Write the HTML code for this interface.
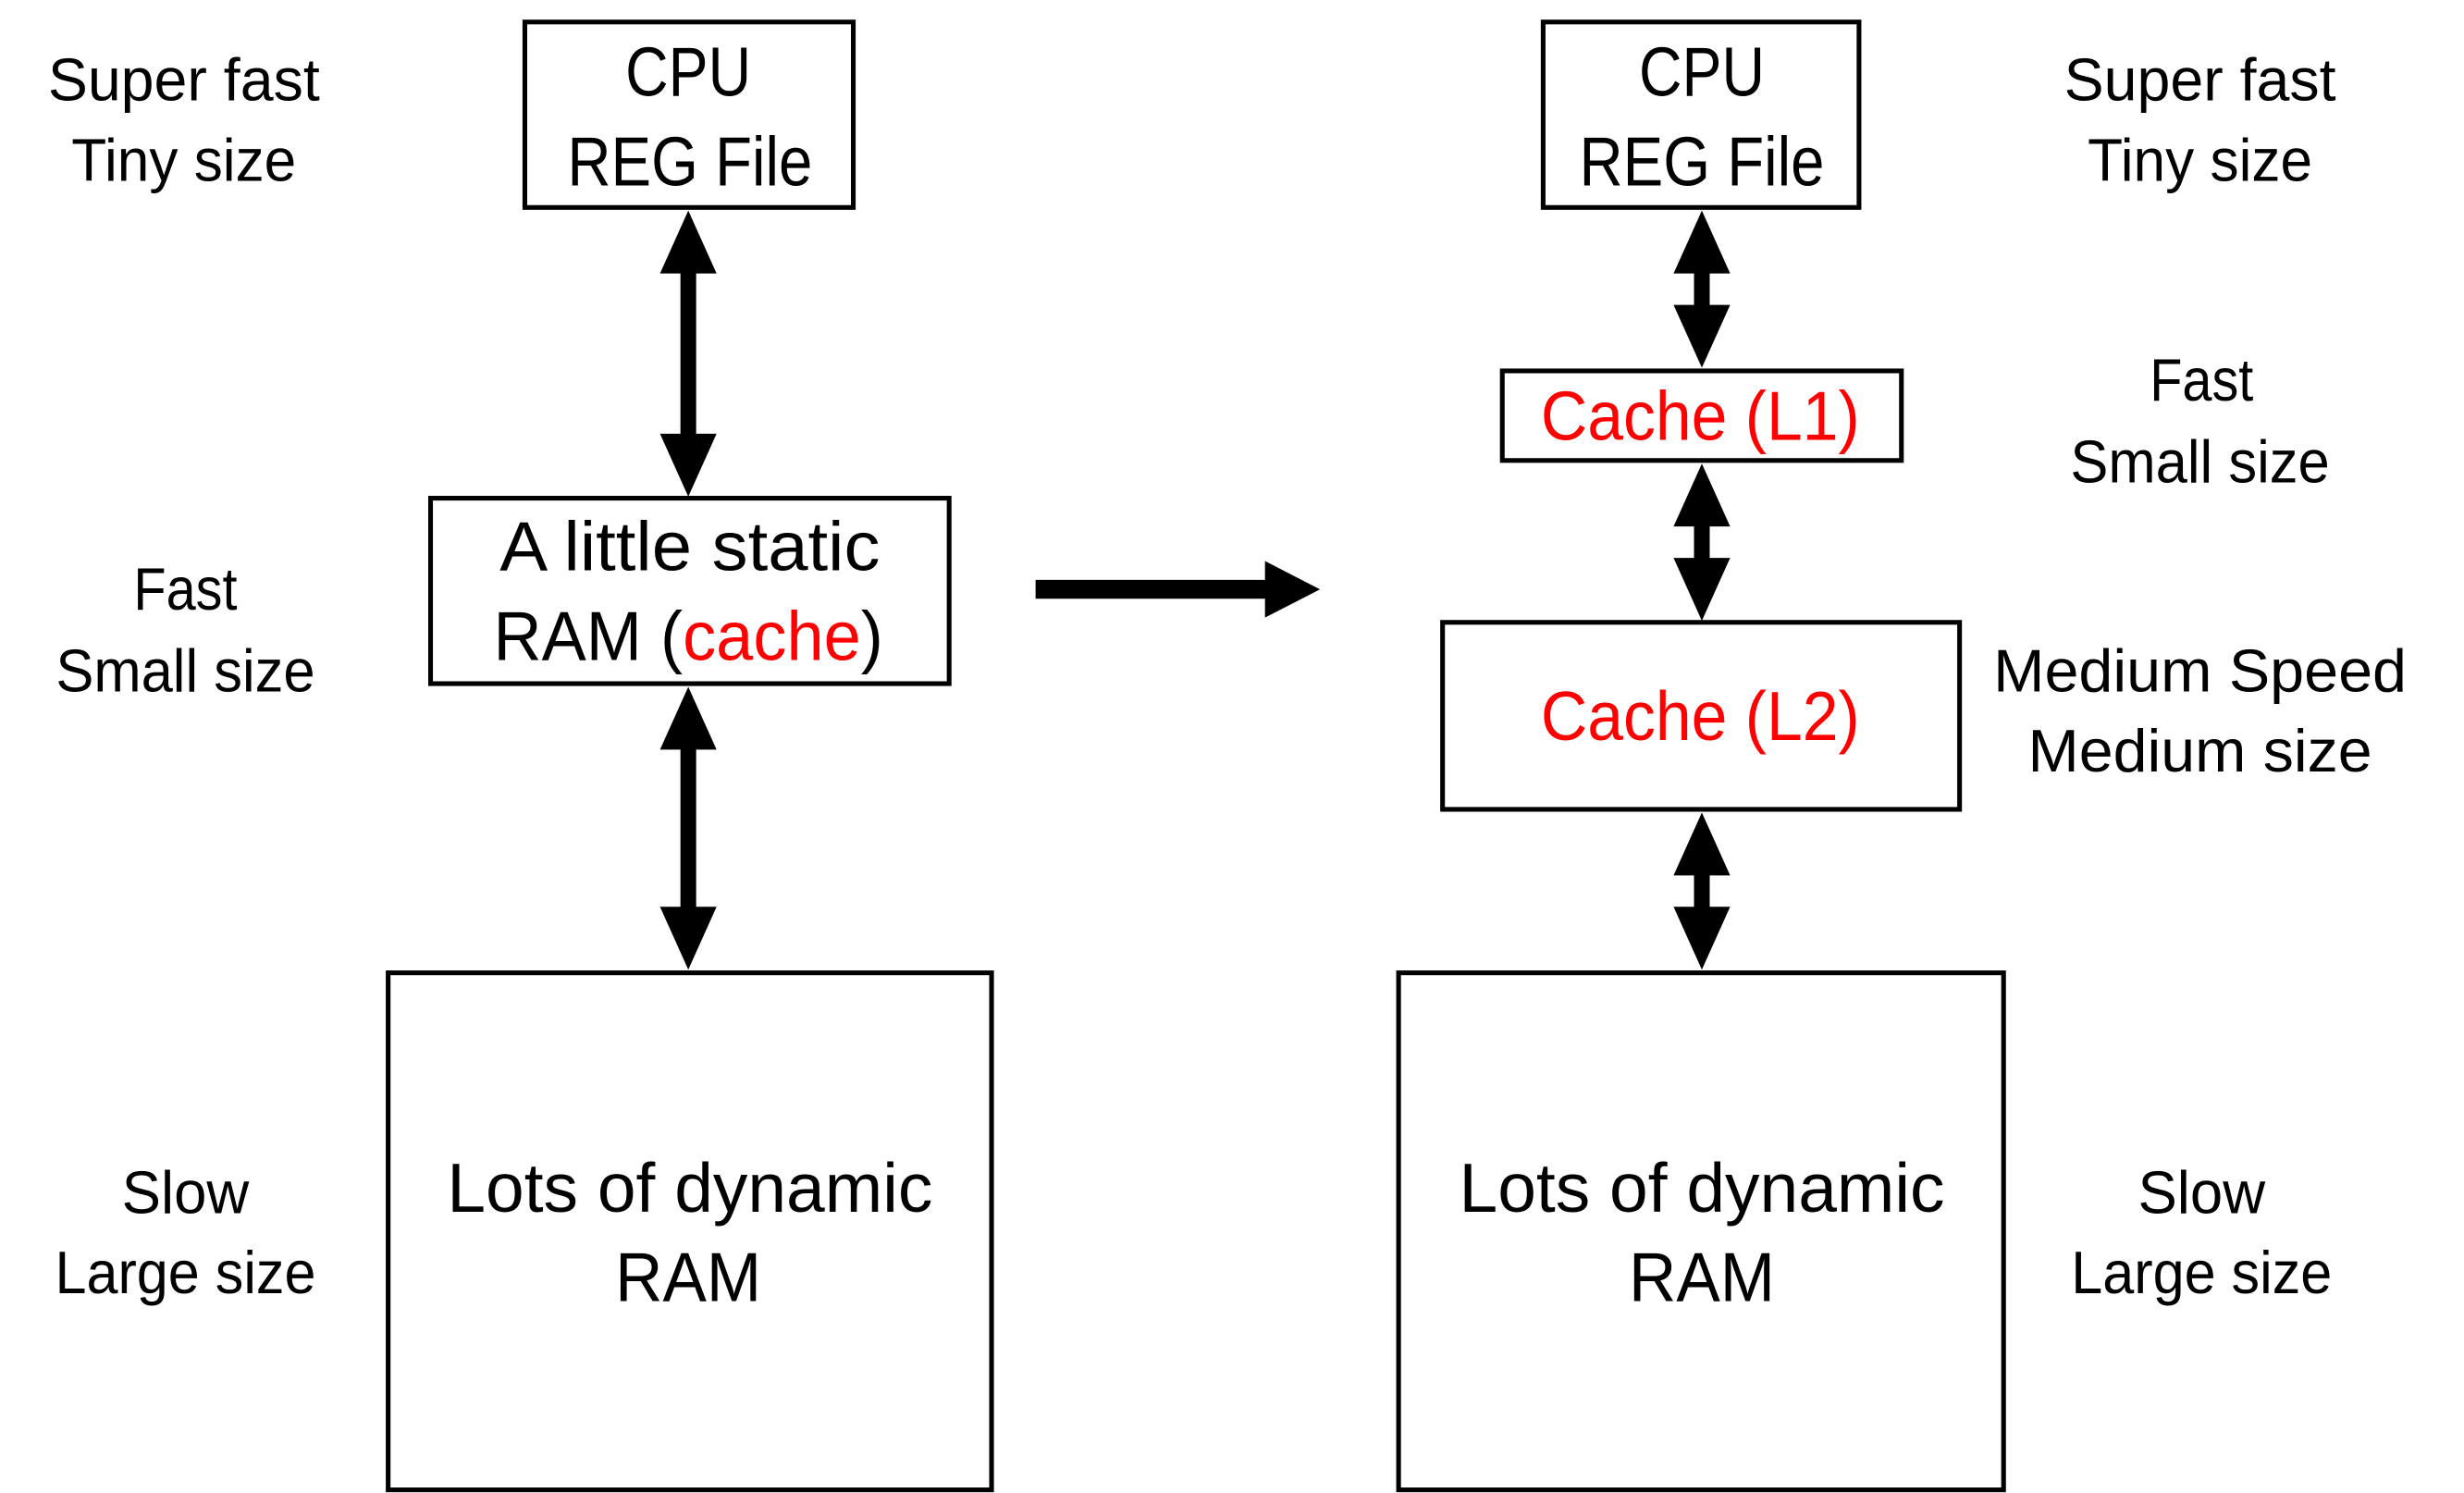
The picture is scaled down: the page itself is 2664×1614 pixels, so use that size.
<!DOCTYPE html>
<html><head><meta charset="utf-8"><style>html,body{margin:0;padding:0;background:#fff}svg{display:block}</style></head>
<body>
<svg width="2664" height="1614" viewBox="0 0 1568 950" preserveAspectRatio="none" xmlns="http://www.w3.org/2000/svg" font-family="'Liberation Sans', sans-serif">
<g fill="none" stroke="#000" stroke-width="3">
<rect x="334" y="14" width="209" height="118"/>
<rect x="274" y="317" width="330" height="118"/>
<rect x="247" y="619" width="384" height="329"/>
<rect x="982" y="14" width="201" height="118"/>
<rect x="956" y="236" width="254" height="57"/>
<rect x="918" y="396" width="329" height="119"/>
<rect x="890" y="619" width="385" height="329"/>
</g>
<g fill="#000">
<polygon points="438,134 456,174 443,174 443,276 456,276 438,316 420,276 433,276 433,174 420,174"/>
<polygon points="438,437 456,477 443,477 443,577 456,577 438,617 420,577 433,577 433,477 420,477"/>
<polygon points="1083,134 1101,174 1088,174 1088,194 1101,194 1083,234 1065,194 1078,194 1078,174 1065,174"/>
<polygon points="1083,295 1101,335 1088,335 1088,355 1101,355 1083,395 1065,355 1078,355 1078,335 1065,335"/>
<polygon points="1083,517 1101,557 1088,557 1088,577 1101,577 1083,617 1065,577 1078,577 1078,557 1065,557"/>
<polygon points="659,369 805,369 805,357 840,375 805,393 805,381 659,381"/>
</g>
<g font-size="44" text-anchor="middle" fill="#000">
<text x="438" y="61" textLength="80" lengthAdjust="spacingAndGlyphs">CPU</text>
<text x="439" y="118" textLength="156" lengthAdjust="spacingAndGlyphs">REG File</text>
<text x="439" y="363" textLength="242" lengthAdjust="spacingAndGlyphs">A little static</text>
<text x="438" y="420" textLength="248" lengthAdjust="spacingAndGlyphs">RAM (<tspan fill="#f00">cache</tspan>)</text>
<text x="439" y="771" textLength="309" lengthAdjust="spacingAndGlyphs">Lots of dynamic</text>
<text x="438" y="828" textLength="93" lengthAdjust="spacingAndGlyphs">RAM</text>
<text x="1083" y="61" textLength="80" lengthAdjust="spacingAndGlyphs">CPU</text>
<text x="1083" y="118" textLength="156" lengthAdjust="spacingAndGlyphs">REG File</text>
<text x="1082" y="280" fill="#f00" textLength="203" lengthAdjust="spacingAndGlyphs">Cache (L1)</text>
<text x="1082" y="471" fill="#f00" textLength="203" lengthAdjust="spacingAndGlyphs">Cache (L2)</text>
<text x="1083" y="771" textLength="309" lengthAdjust="spacingAndGlyphs">Lots of dynamic</text>
<text x="1083" y="828" textLength="93" lengthAdjust="spacingAndGlyphs">RAM</text>
</g>
<g font-size="38" text-anchor="middle" fill="#000">
<text x="117" y="64" textLength="173" lengthAdjust="spacingAndGlyphs">Super fast</text>
<text x="117" y="115" textLength="143" lengthAdjust="spacingAndGlyphs">Tiny size</text>
<text x="118" y="388" textLength="66" lengthAdjust="spacingAndGlyphs">Fast</text>
<text x="118" y="440" textLength="165" lengthAdjust="spacingAndGlyphs">Small size</text>
<text x="118" y="772" textLength="81" lengthAdjust="spacingAndGlyphs">Slow</text>
<text x="118" y="823" textLength="166" lengthAdjust="spacingAndGlyphs">Large size</text>
<text x="1400" y="64" textLength="173" lengthAdjust="spacingAndGlyphs">Super fast</text>
<text x="1400" y="115" textLength="143" lengthAdjust="spacingAndGlyphs">Tiny size</text>
<text x="1401" y="255" textLength="66" lengthAdjust="spacingAndGlyphs">Fast</text>
<text x="1400" y="307" textLength="165" lengthAdjust="spacingAndGlyphs">Small size</text>
<text x="1400" y="440" textLength="263" lengthAdjust="spacingAndGlyphs">Medium Speed</text>
<text x="1400" y="491" textLength="219" lengthAdjust="spacingAndGlyphs">Medium size</text>
<text x="1401" y="772" textLength="81" lengthAdjust="spacingAndGlyphs">Slow</text>
<text x="1401" y="823" textLength="166" lengthAdjust="spacingAndGlyphs">Large size</text>
</g>
</svg>
</body></html>
